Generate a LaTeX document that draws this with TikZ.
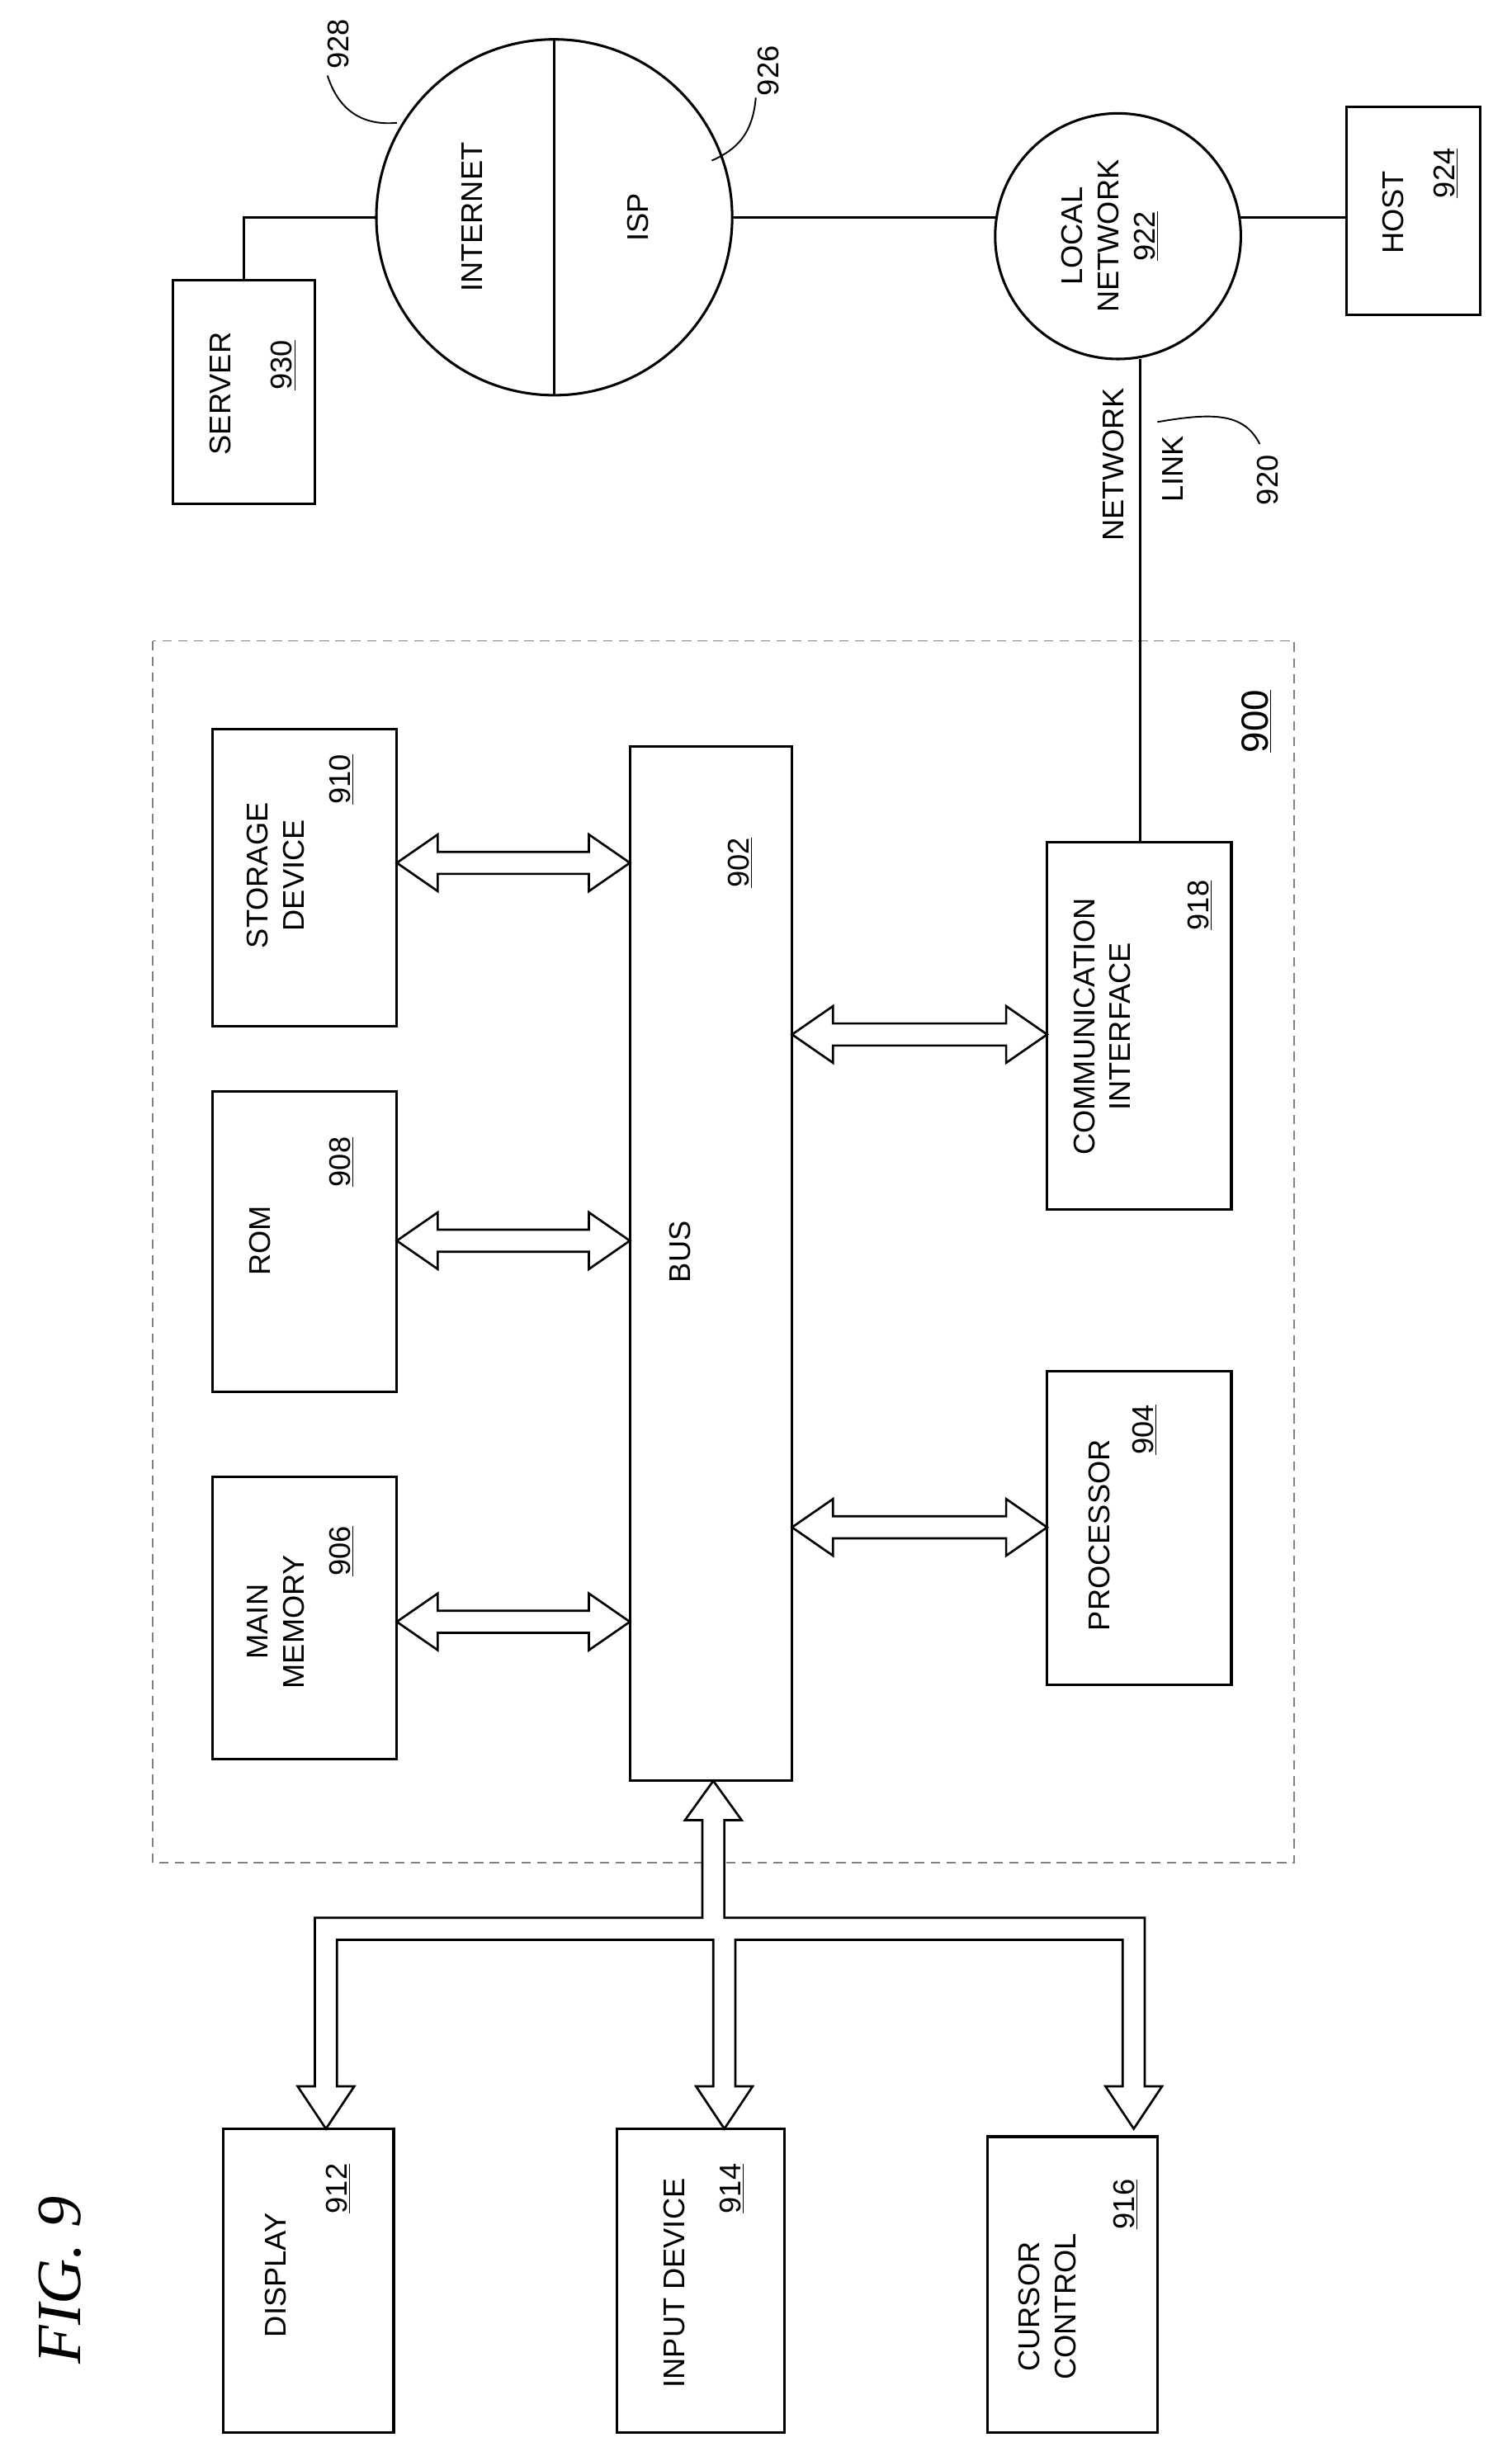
\documentclass[tikz,border=0pt]{standalone}
\usepackage{fontspec}
\setmainfont{Liberation Sans}
\newfontfamily\figfont{Liberation Serif}
\begin{document}
\begin{tikzpicture}[x=1pt,y=-1pt,line width=1.6pt,
  box/.style={draw,minimum width=0pt},
  lbl/.style={rotate=90,font=\fontsize{19}{23}\selectfont,align=center,inner sep=0pt},
  dbl/.style={draw,line width=1.4pt,fill=white}]
\useasboundingbox (0,0) rectangle (960,1563);
\newcommand{\harrow}[3]{% x1 x2 y
  \draw[dbl] (#1,#3) -- (#1+26,#3-18) -- (#1+26,#3-7) -- (#2-26,#3-7) -- (#2-26,#3-18) -- (#2,#3)
   -- (#2-26,#3+18) -- (#2-26,#3+7) -- (#1+26,#3+7) -- (#1+26,#3+18) -- cycle;}
% fig title
\node[rotate=90,font=\figfont\itshape\fontsize{40}{44}\selectfont] (fig) at (38,1448) {FIG. 9};
% dashed box
\draw[gray,line width=1pt,dash pattern=on 6pt off 4pt] (97,407) rectangle (822,1183);
\node[lbl,font=\fontsize{24}{28}\selectfont] (n900) at (798,458) {\underline{900}};
% boxes
\draw (135,938) rectangle (252,1117); \coordinate (mm) at (252,1030);
\node[lbl] at (175,1030) {MAIN\\MEMORY};
\node[lbl] at (217,985) {\underline{906}};
\draw (135,693) rectangle (252,884); \coordinate (rom) at (252,788);
\node[lbl] at (165,788) {ROM};
\node[lbl] at (217,738) {\underline{908}};
\draw (135,463) rectangle (252,652); \coordinate (sd) at (252,548);
\node[lbl] at (175,556) {STORAGE\\DEVICE};
\node[lbl] at (217,495) {\underline{910}};
\draw (400,474) rectangle (503,1131); \coordinate (bus) at (400,800);
\node[lbl] at (432,795) {BUS};
\node[lbl] at (470,548) {\underline{902}};
\draw (665,871) rectangle (782,1070); \coordinate (proc) at (665,970);
\node[lbl] at (698,975) {PROCESSOR};
\node[lbl] at (727,908) {\underline{904}};
\draw (665,535) rectangle (782,768); \coordinate (ci) at (724,535);
\node[lbl] at (700,652) {COMMUNICATION\\INTERFACE};
\node[lbl] at (762,575) {\underline{918}};
% double arrows
\harrow{252}{400}{1030}
\harrow{252}{400}{788}
\harrow{252}{400}{548}
\harrow{503}{665}{970}
\harrow{503}{665}{657}
% tree to peripherals
\draw[dbl] (446,1156) -- (435,1156) -- (453,1131) -- (471,1156) -- (460,1156) -- (460,1218) -- (727,1218)
 -- (727,1325) -- (738,1325) -- (720,1352) -- (702,1325) -- (713,1325) -- (713,1232) -- (467,1232)
 -- (467,1325) -- (478,1325) -- (460,1352) -- (442,1325) -- (453,1325) -- (453,1232) -- (214,1232)
 -- (214,1325) -- (225,1325) -- (207,1352) -- (189,1325) -- (200,1325) -- (200,1218) -- (446,1218) -- cycle;
\draw (142,1352) rectangle (250,1545);
\node[lbl] at (175,1445) {DISPLAY};
\node[lbl] at (215,1390) {\underline{912}};
\draw (392,1352) rectangle (498,1545);
\node[lbl] at (428,1450) {INPUT DEVICE};
\node[lbl] at (465,1390) {\underline{914}};
\draw (627,1357) rectangle (735,1545);
\node[lbl] at (665,1465) {CURSOR\\CONTROL};
\node[lbl] at (715,1400) {\underline{916}};
% network
\draw (352,138) circle (113);
\draw (352,25) -- (352,251);
\node[lbl] at (300,138) {INTERNET};
\node[lbl] at (405,138) {ISP};
\draw (710,150) circle (78);
\node[lbl] at (705,150) {LOCAL\\NETWORK\\\underline{922}};
\draw (855,68) rectangle (940,200);
\node[lbl] at (885,135) {HOST};
\node[lbl] at (918,110) {\underline{924}};
\draw (110,178) rectangle (200,320);
\node[lbl] at (140,250) {SERVER};
\node[lbl] at (180,232) {\underline{930}};
\draw (155,178) -- (155,138) -- (239,138);
\draw (465,138) -- (632,138);
\draw (788,138) -- (855,138);
\draw (ci) -- (724,228);
\node[lbl] at (707,295) {NETWORK};
\node[lbl] at (745,298) {LINK};
\node[lbl] at (805,305) {920};
\draw[line width=1pt] (800,282) .. controls (790,262) and (770,262) .. (735,268);
\node[lbl] at (215,28) {928};
\draw[line width=1pt] (208,48) .. controls (215,70) and (230,80) .. (252,78);
\node[lbl] at (488,45) {926};
\draw[line width=1pt] (480,62) .. controls (478,85) and (468,95) .. (452,102);
\end{tikzpicture}
\end{document}
